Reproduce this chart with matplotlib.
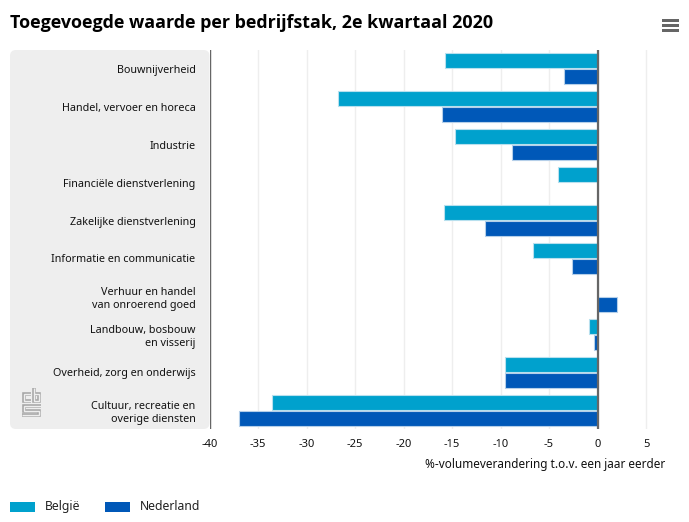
import matplotlib
matplotlib.use('Agg')
import matplotlib.pyplot as plt
from matplotlib.patches import FancyBboxPatch, Rectangle
from matplotlib.transforms import IdentityTransform
import numpy as np

categories = ['Bouwnijverheid', 'Handel, vervoer en horeca', 'Industrie', 'Financiële dienstverlening',
              'Zakelijke dienstverlening', 'Informatie en communicatie', 'Verhuur en handel\nvan onroerend goed',
              'Landbouw, bosbouw\nen visserij', 'Overheid, zorg en onderwijs', 'Cultuur, recreatie en\noverige diensten']
belgie = [-15.7, -26.8, -14.7, -4.1, -15.8, -6.7, 0.1, -0.9, -9.5, -33.6]
nederland = [-3.5, -16.0, -8.8, 0.0, -11.6, -2.6, 2.0, -0.4, -9.5, -37.0]
xticks = [-40, -35, -30, -25, -20, -15, -10, -5, 0, 5]

W, H = 689, 522
BLUE1 = '#00a1cd'
BLUE2 = '#0058b8'
TEXT = '#111111'
plt.rcParams['font.family'] = ['Noto Sans', 'DejaVu Sans']

fig = plt.figure(figsize=(W / 100, H / 100), dpi=100)
tr = IdentityTransform()

# grey panel behind the category labels
fig.add_artist(FancyBboxPatch((10, H - 429), 199.5, 379, boxstyle='round,pad=0,rounding_size=6',
                              transform=tr, fc='#eeeeee', ec='none', zorder=-1))

ax = fig.add_axes([209.5 / W, 1 - 429 / H, (685 - 209.5) / W, 379 / H])
ax.patch.set_alpha(0)
ax.set_xlim(-40, -40 + (685 - 209.5) / 9.7)
ax.set_ylim(len(categories) - 0.5, -0.5)

y = np.arange(len(categories))
h = 15 / 38
ax.barh(y - 8 / 38, belgie, h, color=BLUE1, edgecolor='#b8e0ee', linewidth=0.8, zorder=3)
ax.barh(y + 8 / 38, nederland, h, color=BLUE2, edgecolor='#b5cfe9', linewidth=0.8, zorder=3)

ax.set_xticks(xticks)
ax.set_xticklabels([str(t) for t in xticks])
ax.set_yticks(y)
ax.set_yticklabels(categories, linespacing=1.3)
ax.tick_params(axis='x', length=0, pad=7.5, labelsize=8, labelcolor=TEXT)
ax.tick_params(axis='y', length=0, pad=10, labelsize=7.75, labelcolor=TEXT)
ax.grid(axis='x', color='#eeeeee', linewidth=1, zorder=0)
for s in ax.spines.values():
    s.set_visible(False)
ax.axvline(-40, color='#666666', linewidth=1, zorder=4)
ax.axvline(0, color='#666666', linewidth=1.6, zorder=5)

fig.text(665 / W, 1 - 468 / H, '%-volumeverandering t.o.v. een jaar eerder', ha='right', va='baseline',
         fontsize=8.45, color=TEXT)
fig.text(10 / W, 1 - 28 / H, 'Toegevoegde waarde per bedrijfstak, 2e kwartaal 2020', ha='left', va='baseline',
         fontsize=12.85, fontweight='bold', family=['Open Sans', 'DejaVu Sans'], color='#000000')

# legend
fig.add_artist(Rectangle((10, H - 512), 25, 10, transform=tr, fc=BLUE1, ec='none'))
fig.add_artist(Rectangle((105, H - 512), 25, 10, transform=tr, fc=BLUE2, ec='none'))
fig.text(45 / W, 1 - 510 / H, 'België', ha='left', va='baseline', fontsize=8.8, color='#222222')
fig.text(140 / W, 1 - 510 / H, 'Nederland', ha='left', va='baseline', fontsize=8.8, color='#222222')

# hamburger menu icon
for yy in (20.5, 25.5, 30.5):
    fig.add_artist(Rectangle((661.5, H - yy - 1.5), 17, 3, transform=tr, fc='#666666', ec='none'))

# cbs logo, outlined strokes
logo = [
    [(31, 394), (24, 394), (24, 401), (31, 401)],
    [(34, 388), (34, 401), (39, 401), (39, 394), (34, 394)],
    [(41, 406), (24, 406), (24, 410.5), (39, 410.5), (39, 415), (22, 415)],
]
for line in logo:
    xs, ys = zip(*line)
    ys = [H - v for v in ys]
    fig.add_artist(plt.Line2D(xs, ys, transform=tr, color='#a8a8a8', linewidth=2.6,
                              solid_joinstyle='miter', solid_capstyle='butt'))
    fig.add_artist(plt.Line2D(xs, ys, transform=tr, color='#eeeeee', linewidth=1.0,
                              solid_joinstyle='miter', solid_capstyle='butt'))

fig.savefig('out.png', dpi=100)
